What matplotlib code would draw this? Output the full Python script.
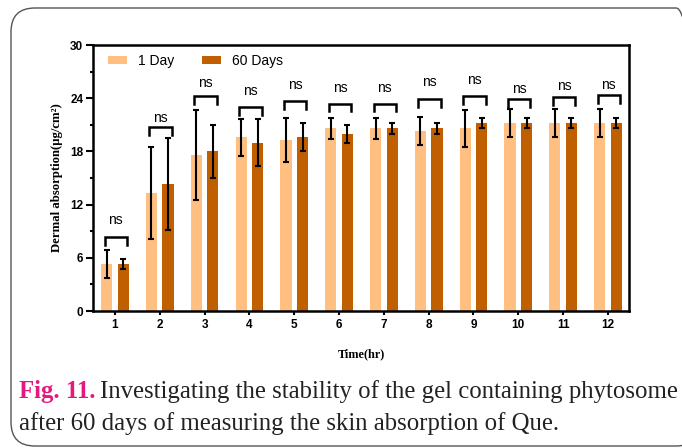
import matplotlib
matplotlib.use("Agg")

import numpy as np
import matplotlib.pyplot as plt
from matplotlib.patches import FancyBboxPatch

# data
hours = ["1", "2", "3", "4", "5", "6", "7", "8", "9", "10", "11", "12"]
day1_mean = [5.3, 13.3, 17.6, 19.6, 19.3, 20.6, 20.6, 20.3, 20.6, 21.2, 21.2, 21.2]
day1_err = [1.55, 5.2, 5.1, 2.1, 2.5, 1.2, 1.2, 1.55, 2.1, 1.55, 1.55, 1.55]
day60_mean = [5.3, 14.3, 18.0, 19.0, 19.6, 20.0, 20.6, 20.6, 21.2, 21.2, 21.2, 21.2]
day60_err = [0.6, 5.2, 3.0, 2.6, 1.55, 1.0, 0.6, 0.6, 0.6, 0.6, 0.6, 0.6]
bracket_y = [8.4, 20.8, 24.2, 23.05, 23.7, 23.4, 23.4, 23.9, 24.2, 23.95, 24.1, 24.4]
ns_y = [10.3, 21.8, 25.7, 24.85, 25.45, 25.2, 25.2, 25.8, 26.05, 25.0, 25.4, 25.5]
sig_labels = ["ns"] * 12

light = "#FFBF80"
dark = "#C05F00"

W, H = 682, 448
fig = plt.figure(figsize=(W / 100, H / 100), dpi=100)
ax = fig.add_axes([93 / W, 1 - 311 / H, (629 - 93) / W, (311 - 45) / H])

x = np.arange(1, len(hours) + 1)
off = 0.185
bw = 0.25
ekw = dict(elinewidth=1.5, capthick=1.5, ecolor="black")
ax.bar(x - off, day1_mean, bw, color=light, label="1 Day",
       yerr=day1_err, capsize=2.5, error_kw=ekw)
ax.bar(x + off, day60_mean, bw, color=dark, label="60 Days",
       yerr=day60_err, capsize=2.5, error_kw=ekw)

# significance brackets
leg = 0.9
for xi, by, ny, s in zip(x, bracket_y, ns_y, sig_labels):
    xl, xr = xi - 0.23, xi + 0.27
    ax.plot([xl, xl, xr, xr], [by - leg, by, by, by - leg], color="black",
            lw=1.8, solid_joinstyle="miter", clip_on=False)
    ax.text(xi + 0.02, ny, s, ha="center", va="center", fontsize=10,
            family="Liberation Sans")

ax.set_xlim(0.51, 12.47)
ax.set_ylim(0, 30)
ax.set_yticks(np.arange(0, 31, 6))
ax.set_yticks(np.arange(3, 30, 6), minor=True)
ax.set_xticks(x)
ax.set_xticklabels(hours)

for sp in ax.spines.values():
    sp.set_linewidth(1.8)
ax.tick_params(axis="y", which="major", length=5, width=1.5, pad=2)
ax.tick_params(axis="y", which="minor", length=2.5, width=1.5)
ax.tick_params(axis="x", which="major", length=3, width=1.5, pad=3)
for lab in ax.get_xticklabels() + ax.get_yticklabels():
    lab.set_fontfamily("Liberation Sans")
    lab.set_fontweight("bold")
    lab.set_fontsize(8.5)

ax.set_ylabel("Dermal absorption(μg/cm²)", family="Liberation Serif",
              fontweight="bold", fontsize=9.2, labelpad=5)
ax.set_xlabel("Time(hr)", family="Liberation Serif", fontweight="bold",
              fontsize=8.8, labelpad=12)

ax.legend(loc="upper left", bbox_to_anchor=(0.028, 0.968), ncol=2,
          frameon=False, prop={"family": "Liberation Sans", "size": 10},
          handlelength=1.4, handleheight=0.5, handletextpad=0.75,
          columnspacing=2.0, borderpad=0, borderaxespad=0)

# rounded frame around the figure
frame = FancyBboxPatch((11 / W, 1 - 446 / H), (700 - 11) / W, (446 - 8) / H,
                       boxstyle="round,pad=0,rounding_size=0.035",
                       transform=fig.transFigure, facecolor="none",
                       edgecolor="#555555", lw=1.0, mutation_aspect=W / H)
fig.patches.append(frame)

# caption
cap_kw = dict(family="Liberation Serif", fontsize=17.8, va="baseline")
t1 = fig.text(19 / W, 1 - 398 / H, "Fig. 11.", color="#E5197D",
              fontweight="bold", **cap_kw)
fig.canvas.draw()
bb = t1.get_window_extent()
fig.text(bb.x1 / W + 5 / W, 1 - 398 / H,
         "Investigating the stability of the gel containing phytosome",
         color="#222222", **cap_kw)
fig.text(19 / W, 1 - 430 / H, "after 60 days of measuring the skin absorption of Que.",
         color="#222222", **cap_kw)

fig.savefig("out.png", dpi=100)
